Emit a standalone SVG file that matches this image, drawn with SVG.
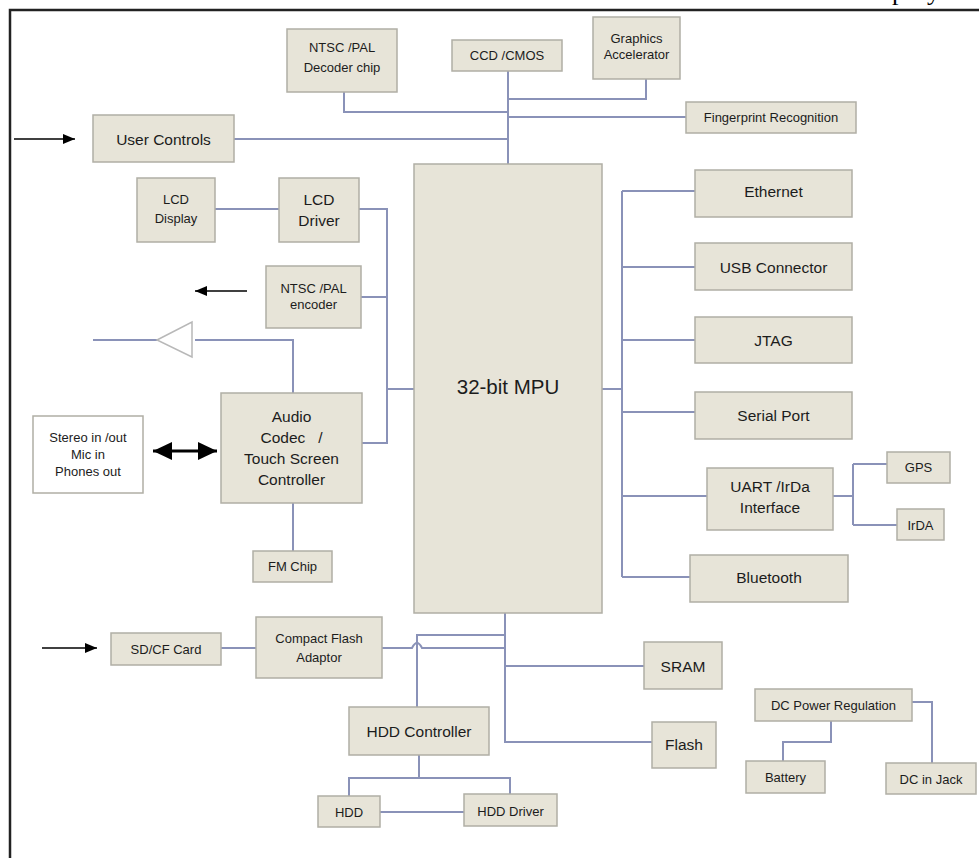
<svg xmlns="http://www.w3.org/2000/svg" width="979" height="858" viewBox="0 0 979 858">
<style>
.box{fill:#e7e4d8;stroke:#b0aea5;stroke-width:1.5}
.wbox{fill:#ffffff;stroke:#b0aea5;stroke-width:1.5}
.ln{fill:none;stroke:#8a92b8;stroke-width:2}
.ar{fill:none;stroke:#000;stroke-width:1.6}
.amp{fill:#ffffff;stroke:#b8b8b8;stroke-width:1.5}
text{font-family:"Liberation Sans",Arial,sans-serif;fill:#1c1c1c;text-anchor:middle}
.s{font-size:13px}
.m{font-size:15.5px}
.l{font-size:20.5px}
.pg{font-family:"Liberation Serif","Times New Roman",serif;font-size:26px;fill:#000;text-anchor:start}
</style>
<defs>
<marker id="ah" markerUnits="userSpaceOnUse" markerWidth="13" markerHeight="10" refX="12" refY="5" orient="auto-start-reverse">
<path d="M0,0 L12,5 L0,10 z" fill="#000"/>
</marker>
<marker id="bh" markerUnits="userSpaceOnUse" markerWidth="20" markerHeight="18" refX="19" refY="9" orient="auto-start-reverse">
<path d="M0,0 L19,9 L0,18 z" fill="#000"/>
</marker>
</defs>
<rect width="979" height="858" fill="#ffffff"/>
<path d="M10,858 V10 H979" fill="none" stroke="#222" stroke-width="2.5"/>
<text class="pg" x="892" y="0">p</text>
<text class="pg" x="927" y="0">y</text>

<g id="connectors">
<path class="ln" d="M508,71 V164"/>
<path class="ln" d="M646,79 V99 H508"/>
<path class="ln" d="M344,92 V112 H508"/>
<path class="ln" d="M508,117 H686"/>
<path class="ln" d="M234,139 H508"/>
<path class="ln" d="M215,209 H279"/>
<path class="ln" d="M359,209 H387 V443 H362"/>
<path class="ln" d="M361,297 H387"/>
<path class="ln" d="M387,389 H414"/>
<path class="ln" d="M293,393 V340 H195"/>
<path class="ln" d="M93,340 H157"/>
<polygon class="amp" points="157,340 192,322 192,357"/>
<path class="ln" d="M293,503 V551"/>
<path class="ln" d="M602,389 H622"/>
<path class="ln" d="M622,191 V577"/>
<path class="ln" d="M622,191 H695 M622,267 H695 M622,340 H695 M622,412 H695 M622,496 H707 M622,577 H690"/>
<path class="ln" d="M833,496 H853 M853,464 V525 M853,464 H887 M853,525 H897"/>
<path class="ln" d="M505,613 V742 H652"/>
<path class="ln" d="M505,666 H644"/>
<path class="ln" d="M505,635 H417 V707"/>
<path class="ln" d="M382,648 H412 Q417,638 422,648 H505"/>
<path class="ln" d="M221,648 H256"/>
<path class="ln" d="M419,755 V778 M349,796 V778 H510 V794"/>
<path class="ln" d="M380,812 H464"/>
<path class="ln" d="M912,702 H932 V763"/>
<path class="ln" d="M831,721 V742 H783 V761"/>
<path class="ar" d="M14,139 H75" marker-end="url(#ah)"/>
<path class="ar" d="M247,291 H195" marker-end="url(#ah)"/>
<path class="ar" d="M42,648 H97" marker-end="url(#ah)"/>
<path d="M153,451 H217" stroke="#000" stroke-width="3" fill="none" marker-start="url(#bh)" marker-end="url(#bh)"/>
</g>

<g id="decoder"><rect class="box" x="287" y="29" width="110" height="63"/><text class="s" x="342" y="51.5">NTSC /PAL</text><text class="s" x="342" y="71.5">Decoder chip</text></g>
<g id="ccd"><rect class="box" x="452" y="40" width="110" height="31"/><text class="s" x="507" y="60">CCD /CMOS</text></g>
<g id="graphics"><rect class="box" x="593" y="17" width="87" height="62"/><text class="s" x="636.5" y="42.5">Graphics</text><text class="s" x="636.5" y="58.5">Accelerator</text></g>
<g id="fingerprint"><rect class="box" x="686" y="102" width="170" height="31"/><text class="s" x="771" y="121.5">Fingerprint Recognition</text></g>
<g id="usercontrols"><rect class="box" x="93" y="115" width="141" height="47"/><text class="m" x="163.5" y="144.5">User Controls</text></g>
<g id="lcddisplay"><rect class="box" x="137" y="178" width="78" height="64"/><text class="s" x="176" y="203.5">LCD</text><text class="s" x="176" y="222.5">Display</text></g>
<g id="lcddriver"><rect class="box" x="279" y="178" width="80" height="64"/><text class="m" x="319" y="204.5">LCD</text><text class="m" x="319" y="225.5">Driver</text></g>
<g id="encoder"><rect class="box" x="266" y="266" width="95" height="62"/><text class="s" x="313.5" y="292.5">NTSC /PAL</text><text class="s" x="313.5" y="308.5">encoder</text></g>
<g id="codec"><rect class="box" x="221" y="393" width="141" height="110"/><text class="m" x="291.5" y="421.5">Audio</text><text class="m" x="291.5" y="442.5" xml:space="preserve">Codec   /</text><text class="m" x="291.5" y="463.5">Touch Screen</text><text class="m" x="291.5" y="484.5">Controller</text></g>
<g id="stereo"><rect class="wbox" x="33" y="416" width="110" height="77"/><text class="s" x="88" y="441.5">Stereo in /out</text><text class="s" x="88" y="458.5">Mic in</text><text class="s" x="88" y="475.5">Phones out</text></g>
<g id="fmchip"><rect class="box" x="253" y="551" width="79" height="31"/><text class="s" x="292.5" y="570.5">FM Chip</text></g>
<g id="mpu"><rect class="box" x="414" y="164" width="188" height="449"/><text class="l" x="508" y="394">32-bit MPU</text></g>
<g id="ethernet"><rect class="box" x="695" y="170" width="157" height="47"/><text class="m" x="773.5" y="196.5">Ethernet</text></g>
<g id="usb"><rect class="box" x="695" y="243" width="157" height="47"/><text class="m" x="773.5" y="272.5">USB Connector</text></g>
<g id="jtag"><rect class="box" x="695" y="317" width="157" height="46"/><text class="m" x="773.5" y="345.5">JTAG</text></g>
<g id="serial"><rect class="box" x="695" y="392" width="157" height="47"/><text class="m" x="773.5" y="420.5">Serial Port</text></g>
<g id="uart"><rect class="box" x="707" y="468" width="126" height="62"/><text class="m" x="770" y="491.5">UART /IrDa</text><text class="m" x="770" y="512.5">Interface</text></g>
<g id="gps"><rect class="box" x="887" y="452" width="63" height="31"/><text class="s" x="918.5" y="471.5">GPS</text></g>
<g id="irda"><rect class="box" x="897" y="509" width="47" height="31"/><text class="s" x="920.5" y="529.5">IrDA</text></g>
<g id="bluetooth"><rect class="box" x="690" y="555" width="158" height="47"/><text class="m" x="769" y="582.5">Bluetooth</text></g>
<g id="sdcf"><rect class="box" x="111" y="633" width="110" height="32"/><text class="s" x="166" y="653.5">SD/CF Card</text></g>
<g id="cfadaptor"><rect class="box" x="256" y="617" width="126" height="61"/><text class="s" x="319" y="642.5">Compact Flash</text><text class="s" x="319" y="661.5">Adaptor</text></g>
<g id="sram"><rect class="box" x="644" y="642" width="78" height="47"/><text class="m" x="683" y="671.5">SRAM</text></g>
<g id="flash"><rect class="box" x="652" y="722" width="64" height="46"/><text class="m" x="684" y="749.5">Flash</text></g>
<g id="hddcontroller"><rect class="box" x="349" y="707" width="140" height="48"/><text class="m" x="419" y="736.5">HDD Controller</text></g>
<g id="hdd"><rect class="box" x="318" y="796" width="62" height="31"/><text class="s" x="349" y="816.5">HDD</text></g>
<g id="hdddriver"><rect class="box" x="464" y="794" width="93" height="32"/><text class="s" x="510.5" y="815.5">HDD Driver</text></g>
<g id="dcpower"><rect class="box" x="755" y="689" width="157" height="32"/><text class="s" x="833.5" y="709.5">DC Power Regulation</text></g>
<g id="battery"><rect class="box" x="746" y="761" width="79" height="32"/><text class="s" x="785.5" y="781.5">Battery</text></g>
<g id="dcjack"><rect class="box" x="886" y="763" width="90" height="31"/><text class="s" x="931" y="783.5">DC in Jack</text></g>
</svg>
